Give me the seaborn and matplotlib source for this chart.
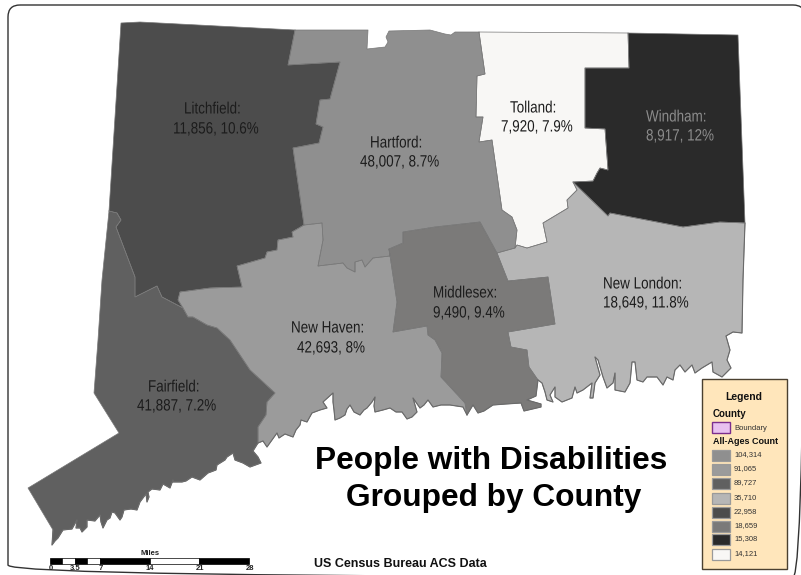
import matplotlib
matplotlib.use("Agg")
import matplotlib.pyplot as plt
import matplotlib.patheffects as pe
from matplotlib.patches import FancyBboxPatch, Rectangle
from matplotlib.transforms import Affine2D
import seaborn as sns

# county borders, picture coordinates
litch_top = [(109, 211), (121, 23), (140, 22), (295, 30)]
litch_hart = [(295, 30), (288, 65), (340, 62), (330, 99), (320, 100), (316, 124), (323, 127), (319, 143), (293, 148), (304, 225)]
litch_nh = [(304, 225), (292, 232), (293, 237), (278, 240), (277, 250), (267, 252), (265, 258), (237, 266), (242, 287), (210, 288), (180, 292), (178, 300), (183, 308)]
litch_fair = [(183, 308), (162, 297), (157, 286), (135, 297), (135, 277), (116, 227), (121, 220), (117, 213), (109, 211)]
fair_nh = [(183, 308), (188, 317), (193, 317), (207, 325), (217, 328), (230, 340), (238, 352), (250, 370), (275, 393), (267, 402), (266, 415), (258, 427), (258, 443)]
fair_coast = [(258, 443), (253, 451), (258, 457), (261, 463), (250, 467), (243, 463), (235, 460), (233, 453), (227, 457), (225, 460), (217, 465), (216, 470),
              (208, 473), (200, 480), (192, 477), (186, 481), (182, 482), (173, 482), (173, 480), (170, 488), (163, 484), (160, 490), (152, 489), (148, 492), (149, 497),
              (147, 502), (146, 494), (140, 502), (137, 510), (131, 509), (124, 510), (122, 517), (120, 520), (115, 513), (112, 512), (110, 518),
              (107, 520), (103, 528), (101, 522), (100, 515), (95, 521), (87, 520), (87, 527), (82, 532), (80, 528), (76, 528), (77, 520), (72, 529), (63, 530),
              (58, 538), (55, 541), (52, 545), (53, 530)]
fair_west = [(53, 530), (28, 488), (119, 433), (94, 393), (98, 340), (102, 280), (109, 211)]
nh_coast = [(258, 443), (263, 441), (267, 447), (272, 440), (277, 433), (279, 438), (285, 434), (293, 437), (296, 430), (300, 425), (301, 420), (307, 422), (312, 413),
            (320, 410), (327, 408), (323, 402), (333, 393), (333, 402), (334, 410), (335, 420), (340, 418), (345, 415), (347, 409), (350, 405), (354, 412), (360, 415), (364, 410),
            (367, 408), (372, 402), (375, 397), (374, 406), (375, 412), (383, 410), (390, 408), (396, 412), (402, 412), (407, 419), (412, 417), (417, 412),
            (413, 398), (420, 408), (424, 405), (428, 400), (433, 407), (441, 405), (450, 405), (463, 407), (467, 415)]
nh_midd = [(467, 415), (465, 403), (441, 377), (442, 353), (435, 340), (428, 335), (427, 326), (393, 332), (397, 302), (389, 249)]
hart_midd = [(389, 249), (403, 243), (403, 232), (435, 227), (480, 222), (497, 253)]
hart_nh = [(390, 256), (373, 258), (365, 267), (362, 260), (355, 262), (355, 272), (347, 268), (343, 263), (318, 266), (323, 240), (322, 223), (304, 225)]
hart_top = [(295, 30), (368, 30), (367, 49), (385, 47), (388, 42), (386, 37), (389, 31), (430, 30), (445, 34), (451, 35), (455, 32), (479, 32)]
hart_toll = [(479, 32), (485, 74), (477, 76), (476, 117), (483, 117), (479, 142), (492, 140), (502, 210), (512, 217), (517, 230), (515, 248), (497, 253)]
toll_top = [(479, 32), (628, 33)]
toll_wind = [(628, 33), (629, 68), (585, 68), (585, 128), (605, 129), (608, 170), (600, 168), (597, 173), (593, 181), (573, 182)]
toll_nl = [(573, 182), (577, 190), (567, 200), (568, 208), (543, 223), (547, 242), (527, 248), (517, 245), (515, 248)]
wind_outer = [(628, 33), (738, 35), (745, 223), (720, 222), (683, 227), (610, 213), (608, 216), (573, 182)]
midd_nl = [(497, 253), (508, 281), (548, 277), (555, 324), (508, 332), (511, 347), (527, 350), (529, 367), (538, 380)]
midd_coast = [(538, 380), (536, 396), (527, 400), (541, 404), (541, 407), (524, 411), (521, 403), (506, 404), (493, 405), (484, 411), (478, 413), (473, 405), (467, 415)]
nl_coast = [(538, 380), (542, 383), (545, 392), (547, 400), (553, 402), (550, 395), (555, 387), (555, 397), (562, 402), (572, 398), (575, 387), (577, 393),
            (583, 390), (592, 383), (590, 398), (593, 398), (595, 383), (600, 375), (595, 357), (598, 360), (603, 377), (607, 388), (613, 383), (615, 373),
            (615, 390), (625, 392), (630, 383), (632, 362), (635, 362), (637, 380), (643, 382), (647, 377), (657, 377), (663, 385), (667, 377), (673, 380),
            (675, 370), (680, 365), (685, 372), (692, 365), (695, 373), (702, 368), (712, 362), (713, 372), (722, 377), (731, 368), (727, 360),
            (730, 350), (726, 336), (733, 332), (742, 333), (743, 280), (745, 223)]

counties = ["Hartford", "New Haven", "Fairfield", "New London", "Litchfield", "Middlesex", "Windham", "Tolland"]
counts = ["48,007", "42,693", "41,887", "18,649", "11,856", "9,490", "8,917", "7,920"]
rates = ["8.7%", "8%", "7.2%", "11.8%", "10.6%", "9.4%", "12%", "7.9%"]
grey_vals = ["#8f8f8f", "#9b9b9b", "#606060", "#b6b6b6", "#4c4c4c", "#7b7a79", "#2a2a2a", "#f8f7f5"]

outlines = {
    "Litchfield": litch_top + litch_hart + litch_nh + litch_fair,
    "Fairfield": litch_fair[::-1] + fair_nh + fair_coast + fair_west,
    "New Haven": litch_nh + fair_nh + nh_coast + nh_midd + [(390, 256)] + hart_nh,
    "Hartford": hart_top + hart_toll + hart_midd[::-1] + hart_nh + litch_hart[::-1],
    "Tolland": toll_top + toll_wind + toll_nl + hart_toll[::-1][1:],
    "Windham": wind_outer + toll_wind[::-1],
    "Middlesex": hart_midd + midd_nl + midd_coast + nh_midd,
    "New London": toll_nl + [(497, 253)] + midd_nl + nl_coast + [(720, 222), (683, 227), (610, 213), (608, 216), (573, 182)],
}
draw_order = ["Hartford", "Litchfield", "New Haven", "Fairfield", "New London", "Tolland", "Windham", "Middlesex"]
coast_lines = [fair_coast, nh_coast, midd_coast, nl_coast]

# first and second label line: left x, y
label_pos = {
    "Litchfield": (184, 109, 173, 129),
    "Hartford": (370, 143, 360, 162),
    "Tolland": (510, 108, 501, 127),
    "Windham": (646, 117, 646, 136),
    "New London": (603, 284, 603, 303),
    "Middlesex": (433, 293, 433, 313),
    "New Haven": (291, 328, 297, 348),
    "Fairfield": (148, 387, 137, 406),
}

legend_counts = ["104,314", "91,065", "89,727", "35,710", "22,958", "18,659", "15,308", "14,121"]
legend_y = [455, 469, 483, 498, 512, 526, 539, 554]

scale_miles = [0, 1.75, 3.5, 5.25, 7, 14, 21, 28]
scale_fill = ["black", "white", "black", "white", "black", "white", "black"]
scale_ticks = [0, 3.5, 7, 14, 21, 28]
scale_px = 7.11


class Narrow(pe.AbstractPathEffect):
    """No condensed font is installed, so squeeze the glyph paths sideways."""
    def __init__(self, sx=0.82):
        super().__init__()
        self.sx = sx

    def draw_path(self, renderer, gc, tpath, affine, rgbFace=None):
        renderer.draw_path(gc, tpath, Affine2D().scale(self.sx, 1) + affine, rgbFace)


sns.set_theme(style="white")
plt.rcParams["font.family"] = ["Liberation Sans"]

fig = plt.figure(figsize=(8.01, 5.75), dpi=100)
ax = fig.add_axes([0, 0, 1, 1])

shades = dict(zip(counties, sns.color_palette(grey_vals, len(grey_vals))))
for name in draw_order:
    pts = outlines[name]
    xs = [p[0] for p in pts] + [pts[0][0]]
    ys = [p[1] for p in pts] + [pts[0][1]]
    ax.fill(xs, ys, color=shades[name], lw=0, zorder=2)
    sns.lineplot(x=xs, y=ys, sort=False, estimator=None, color="#777777", lw=0.5, ax=ax, legend=False, zorder=3)
for line in coast_lines:
    sns.lineplot(x=[p[0] for p in line], y=[p[1] for p in line], sort=False, estimator=None,
                 color="#6a6a6a", lw=0.8, ax=ax, legend=False, zorder=3)

for name, cnt, rate in zip(counties, counts, rates):
    x1, y1, x2, y2 = label_pos[name]
    col = "#8c8c8c" if name == "Windham" else "#1c1c1c"
    for x, y, s in [(x1, y1, f"{name}:"), (x2, y2, f"{cnt}, {rate}")]:
        ax.text(x, y, s, fontsize=11.8, color=col, va="center", zorder=5, path_effects=[Narrow()])

# frame runs slightly past the picture on the right and bottom
ax.add_patch(FancyBboxPatch((20, 17), 773, 548, boxstyle="round,pad=12,rounding_size=12", fc="none", ec="#333333", lw=1.0, zorder=1))

ax.text(315, 469, "People with Disabilities", fontsize=22.8, fontweight="bold", color="black", va="baseline", zorder=5)
ax.text(346, 506, "Grouped by County", fontsize=22.8, fontweight="bold", color="black", va="baseline", zorder=5)
ax.text(314, 567, "US Census Bureau ACS Data", fontsize=9, fontweight="bold", color="#111111", va="baseline", zorder=5)

# legend box
ax.add_patch(Rectangle((702, 379), 85, 190, fc="#ffe6bb", ec="#4a4030", lw=1.0, zorder=6))
ax.text(744, 397, "Legend", fontsize=7.5, fontweight="bold", ha="center", va="center", color="#111111", zorder=7)
ax.text(713, 414, "County", fontsize=7, fontweight="bold", va="center", color="#111111", zorder=7)
ax.add_patch(Rectangle((712, 422), 18, 11, fc="#e8c0f0", ec="#7b2d8e", lw=1.0, zorder=7))
ax.text(734, 428, "Boundary", fontsize=5.5, va="center", color="#333333", zorder=7)
ax.text(713, 442, "All-Ages Count", fontsize=6.5, fontweight="bold", va="center", color="#111111", zorder=7)
for col, lab, y in zip(grey_vals, legend_counts, legend_y):
    ax.add_patch(Rectangle((712, y - 5.5), 18, 11, fc=col, ec="#9a9a9a", lw=0.9, zorder=7))
    ax.text(734, y, lab, fontsize=5.5, va="center", color="#333333", zorder=7)

# scale bar
for a, b, c in zip(scale_miles[:-1], scale_miles[1:], scale_fill):
    ax.add_patch(Rectangle((50 + a * scale_px, 558), (b - a) * scale_px, 5.5, fc=c, ec="black", lw=0.5, zorder=5))
for t in scale_ticks:
    ax.text(50.5 + t * scale_px, 569, f"{t:g}", fontsize=5.5, fontweight="bold", ha="center", va="center", color="#222222", zorder=5)
ax.text(150, 553.5, "Miles", fontsize=5.5, fontweight="bold", ha="center", va="center", color="#222222", zorder=5)

ax.set_xlim(0, 801)
ax.set_ylim(575, 0)
ax.axis("off")
fig.savefig("out.png", dpi=100, facecolor="white")
